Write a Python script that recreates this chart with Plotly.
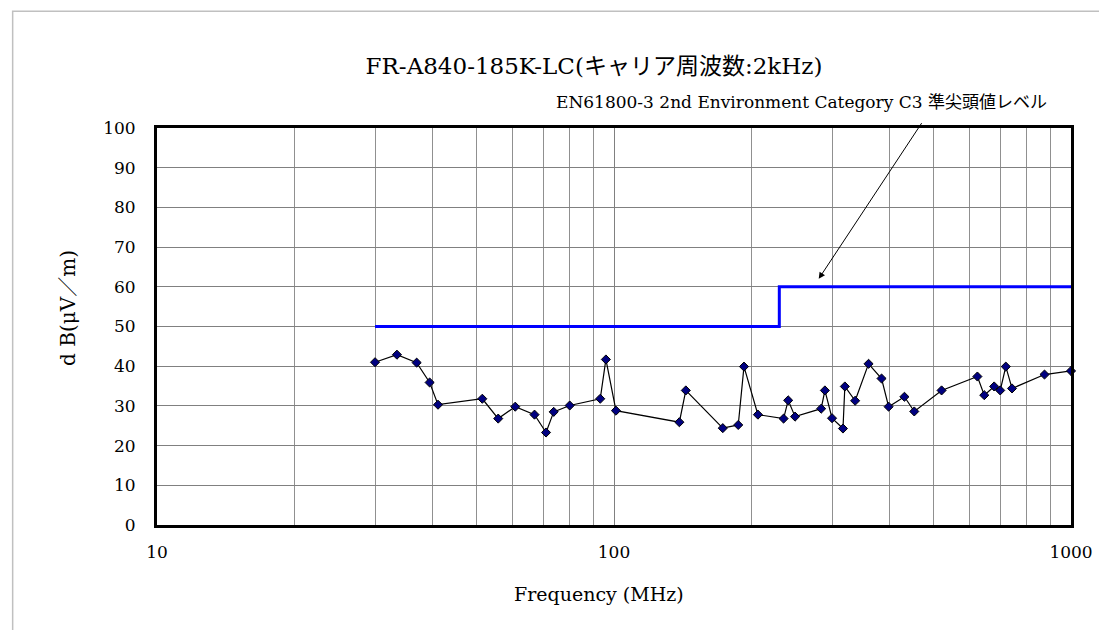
import plotly.graph_objects as go
import math

freq_mhz = [30, 33.5, 37, 39.5, 41.2, 51.5, 55.8, 60.8, 67, 71, 73.8, 80, 93.3, 96, 101,
            139, 143.6, 173, 187, 192.5, 206.5, 235, 240.5, 249, 284, 289.4, 300, 317,
            320, 337, 360.6, 385, 399, 432, 454, 521, 624, 646, 679, 700, 720, 743, 875, 1000]
level_db = [41, 42.9, 40.9, 35.9, 30.3, 31.8, 26.8, 29.8, 27.8, 23.3, 28.5, 30.1, 31.8, 41.7, 28.8,
            25.9, 33.9, 24.4, 25.2, 39.9, 27.8, 26.8, 31.4, 27.3, 29.3, 33.9, 26.9, 24.3,
            34.9, 31.3, 40.6, 36.9, 29.8, 32.3, 28.6, 33.9, 37.4, 32.7, 34.9, 33.9, 39.9, 34.4, 37.9, 38.8]

limit_freq = [30, 230, 230, 1000]
limit_db = [50, 50, 60, 60]

title_text = "FR-A840-185K-LC(キャリア周波数:2kHz)"
limit_label = "EN61800-3 2nd Environment Category C3 準尖頭値レベル"
x_title = "Frequency (MHz)"
y_title = "d B(μV／m)"
x_ticks = [10, 100, 1000]
y_ticks = list(range(0, 101, 10))

FONT = "'DejaVu Serif', 'Noto Sans CJK JP', serif"

L, R, T, B = 148.5, 43.5, 119.7, 113.3
PW = 1107 - L - R
PH = 630 - T - B


def px(xf):
    return (xf - L) / PW


def py(yf):
    return (630 - B - yf) / PH


fig = go.Figure()
fig.add_trace(go.Scatter(x=limit_freq, y=limit_db, mode="lines",
                         line=dict(color="#0000FF", width=3), showlegend=False))
fig.add_trace(go.Scatter(x=freq_mhz, y=level_db, mode="lines+markers",
                         line=dict(color="black", width=1.2),
                         marker=dict(symbol="diamond", size=7, color="#000080",
                                     line=dict(color="black", width=1)),
                         showlegend=False, cliponaxis=False))

fig.update_layout(
    width=1107, height=630,
    margin=dict(l=L, r=R, t=T, b=B),
    paper_bgcolor="white", plot_bgcolor="white",
    font=dict(family=FONT, color="black", size=16),
    title=dict(text=title_text, x=586 / 1107, xanchor="center", y=1 - 58 / 630, yanchor="middle",
               font=dict(size=23, family=FONT)),
)
fig.update_xaxes(type="log", range=[1, 3], tickvals=x_ticks, ticktext=[str(v) for v in x_ticks],
                 showgrid=True, gridcolor="#808080", gridwidth=1,
                 minor=dict(dtick="D1", showgrid=True, gridcolor="#909090", gridwidth=1, ticks=""),
                 showline=True, linecolor="black", linewidth=3, mirror=True,
                 ticks="", ticklabelstandoff=10,
                 tickfont=dict(size=17, family=FONT),
                 zeroline=False)
fig.update_yaxes(range=[0, 100], tickvals=y_ticks,
                 showgrid=True, gridcolor="#808080", gridwidth=1,
                 showline=True, linecolor="black", linewidth=3, mirror=True,
                 ticks="", ticklabelstandoff=15, tickfont=dict(size=17, family=FONT),
                 zeroline=False)

# axis titles
fig.add_annotation(x=px(590.5), y=py(586), xref="paper", yref="paper", text=x_title,
                   showarrow=False, xanchor="center", yanchor="middle",
                   font=dict(size=19, family=FONT))
fig.add_annotation(x=px(60), y=py(300), xref="paper", yref="paper", text=y_title,
                   showarrow=False, xanchor="center", yanchor="middle", textangle=-90,
                   font=dict(size=20, family=FONT))

# arrow annotation pointing to the limit line
fig.add_annotation(x=math.log10(280.5), y=62.0, ax=math.log10(473.5), ay=101.6,
                   xref="x", yref="y", axref="x", ayref="y",
                   text="", showarrow=True, arrowhead=2, arrowsize=1.3, arrowwidth=1,
                   arrowcolor="black")
fig.add_annotation(x=px(794), y=py(94), xref="paper", yref="paper",
                   text=limit_label, showarrow=False, xanchor="center", yanchor="middle",
                   font=dict(size=17, family=FONT))

# outer chart border
fig.add_shape(type="rect", xref="paper", yref="paper",
              x0=px(4), x1=1.2, y0=-0.4, y1=py(3),
              line=dict(color="#c0c0c0", width=1.5), layer="below")

fig.write_html("out.html")
